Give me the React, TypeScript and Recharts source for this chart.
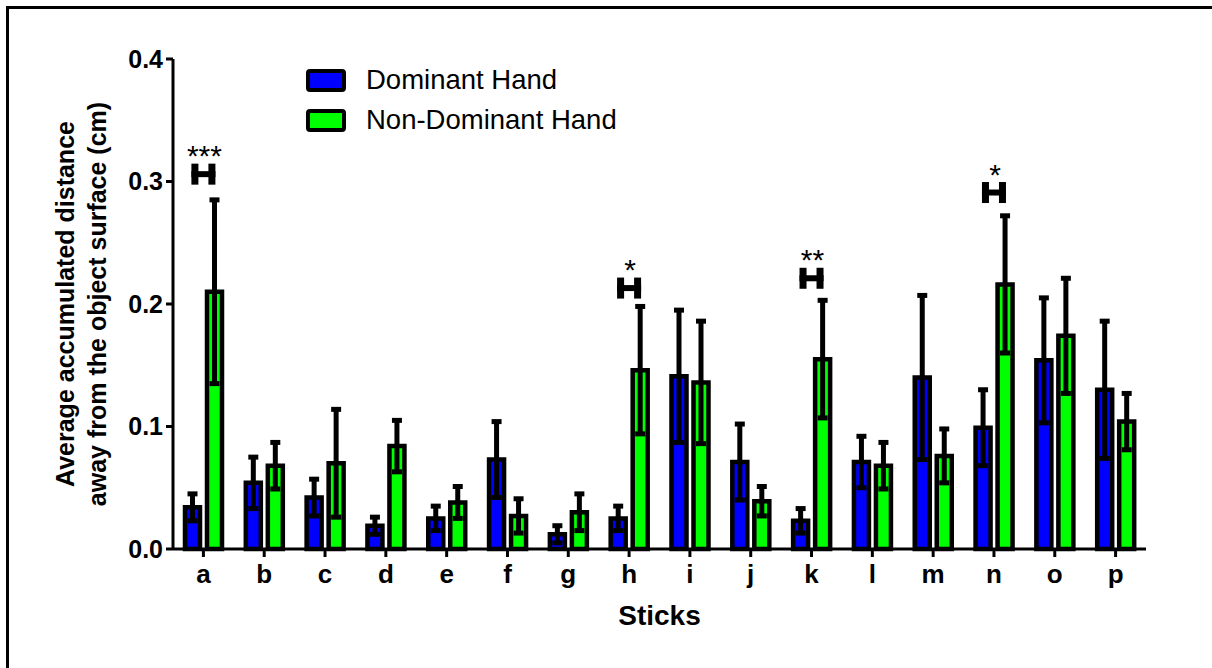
import React from 'react';
import { BarChart, Bar, XAxis, YAxis, ErrorBar, ReferenceDot, Legend } from 'recharts';

const FONT = '"Liberation Sans", Arial, Helvetica, sans-serif';

const categories = ['a', 'b', 'c', 'd', 'e', 'f', 'g', 'h', 'i', 'j', 'k', 'l', 'm', 'n', 'o', 'p'];
const dominantMean = [0.034, 0.054, 0.042, 0.019, 0.025, 0.073, 0.012, 0.025, 0.141, 0.071, 0.023, 0.071, 0.140, 0.099, 0.154, 0.130];
const dominantSd = [0.011, 0.021, 0.015, 0.007, 0.010, 0.031, 0.007, 0.010, 0.054, 0.031, 0.010, 0.021, 0.067, 0.031, 0.051, 0.056];
const nonDominantMean = [0.210, 0.068, 0.070, 0.084, 0.038, 0.027, 0.030, 0.146, 0.136, 0.039, 0.155, 0.068, 0.076, 0.216, 0.174, 0.104];
const nonDominantSd = [0.075, 0.019, 0.044, 0.021, 0.013, 0.014, 0.015, 0.052, 0.050, 0.012, 0.048, 0.019, 0.022, 0.056, 0.047, 0.023];
const yTicks = [0, 0.1, 0.2, 0.3, 0.4];
const seriesNames = ['Dominant Hand', 'Non-Dominant Hand'];
const seriesColors = ['#0000FF', '#00FF00'];
const sigCategories = ['a', 'h', 'k', 'n'];
const sigStars = ['***', '*', '**', '*'];
const sigLevels = [0.306, 0.213, 0.221, 0.291];

const data = categories.map((c, i) => ({
  cat: c,
  dom: dominantMean[i],
  domSd: dominantSd[i],
  non: nonDominantMean[i],
  nonSd: nonDominantSd[i],
}));

const renderLegend = () => (
  <div style={{ fontFamily: FONT }}>
    {seriesNames.map((name, i) => (
      <div key={name} style={{ display: 'flex', alignItems: 'center', height: 40 }}>
        <div
          style={{
            width: 32,
            height: 15,
            background: seriesColors[i],
            border: '4.5px solid #000',
            borderRadius: 4,
            boxSizing: 'content-box',
          }}
        />
        <span style={{ marginLeft: 20, fontSize: 27.5, color: '#000', lineHeight: '40px' }}>{name}</span>
      </div>
    ))}
  </div>
);

const makeSigShape = (stars: string) => (props: any) => {
  const { cx, cy } = props;
  if (cx == null || cy == null) return <g />;
  const w = 24;
  const h = 21;
  const sw = 7;
  const left = cx - w / 2;
  const top = cy - h / 2;
  return (
    <g>
      <rect x={left} y={top} width={sw} height={h} fill="#000" />
      <rect x={left + w - sw} y={top} width={sw} height={h} fill="#000" />
      <rect x={left} y={cy - 3} width={w} height={6} fill="#000" />
      <text
        x={cx + 1}
        y={cy - 8}
        textAnchor="middle"
        fontSize={30}
        fontFamily={FONT}
        fill="#000"
      >
        {stars}
      </text>
    </g>
  );
};

const YLabel = (props: any) => {
  const vb = props.viewBox || {};
  const cy = vb.y + vb.height / 2;
  return (
    <g>
      <text
        x={74}
        y={cy}
        transform={`rotate(-90, 74, ${cy})`}
        textAnchor="middle"
        fontSize={25}
        fontWeight="bold"
        fontFamily={FONT}
        fill="#000"
      >
        Average accumulated distance
      </text>
      <text
        x={106}
        y={cy}
        transform={`rotate(-90, 106, ${cy})`}
        textAnchor="middle"
        fontSize={25}
        fontWeight="bold"
        fontFamily={FONT}
        fill="#000"
      >
        away from the object surface (cm)
      </text>
    </g>
  );
};

const XLabel = (props: any) => {
  const vb = props.viewBox || {};
  return (
    <text
      x={vb.x + vb.width / 2}
      y={vb.y + 76}
      textAnchor="middle"
      fontSize={28}
      fontWeight="bold"
      fontFamily={FONT}
      fill="#000"
    >
      Sticks
    </text>
  );
};

export default function App() {
  return (
    <div style={{ position: 'absolute', left: 0, top: 0, width: 1212, height: 668, overflow: 'hidden', background: '#fff' }}>
      <div style={{ position: 'absolute', left: 6, top: 6, width: 1206, height: 3, background: '#000' }} />
      <div style={{ position: 'absolute', left: 6, top: 6, width: 3, height: 662, background: '#000' }} />
      <div style={{ position: 'absolute', left: 0, top: 0 }}>
        <BarChart
          width={1212}
          height={668}
          data={data}
          margin={{ top: 59, right: 66, bottom: 0, left: 0 }}
          barGap={7}
        >
          <XAxis
            dataKey="cat"
            height={119}
            tickSize={8}
            tickMargin={8}
            axisLine={{ stroke: '#000', strokeWidth: 3 }}
            tickLine={{ stroke: '#000', strokeWidth: 3 }}
            tick={{ fontSize: 26, fontWeight: 'bold', fill: '#000', fontFamily: FONT }}
            label={<XLabel />}
          />
          <YAxis
            width={173}
            domain={[0, 0.4]}
            ticks={yTicks}
            tickFormatter={(v: number) => v.toFixed(1)}
            tickSize={7}
            tickMargin={3}
            axisLine={{ stroke: '#000', strokeWidth: 3 }}
            tickLine={{ stroke: '#000', strokeWidth: 3 }}
            tick={{ fontSize: 25, fontWeight: 'bold', fill: '#000', fontFamily: FONT }}
            label={<YLabel />}
          />
          <Legend
            layout="vertical"
            align="center"
            verticalAlign="middle"
            content={renderLegend}
            wrapperStyle={{ left: 306, top: 60, width: 420 }}
          />
          <Bar
            dataKey="dom"
            name={seriesNames[0]}
            fill={seriesColors[0]}
            stroke="#000"
            strokeWidth={4.5}
            barSize={15}
            isAnimationActive={false}
          >
            <ErrorBar dataKey="domSd" width={5} stroke="#000" strokeWidth={5} direction="y" />
          </Bar>
          <Bar
            dataKey="non"
            name={seriesNames[1]}
            fill={seriesColors[1]}
            stroke="#000"
            strokeWidth={4.5}
            barSize={15}
            isAnimationActive={false}
          >
            <ErrorBar dataKey="nonSd" width={5} stroke="#000" strokeWidth={5} direction="y" />
          </Bar>
          {sigCategories.map((c, i) => (
            <ReferenceDot key={c} x={c} y={sigLevels[i]} r={1} shape={makeSigShape(sigStars[i])} />
          ))}
        </BarChart>
      </div>
    </div>
  );
}
